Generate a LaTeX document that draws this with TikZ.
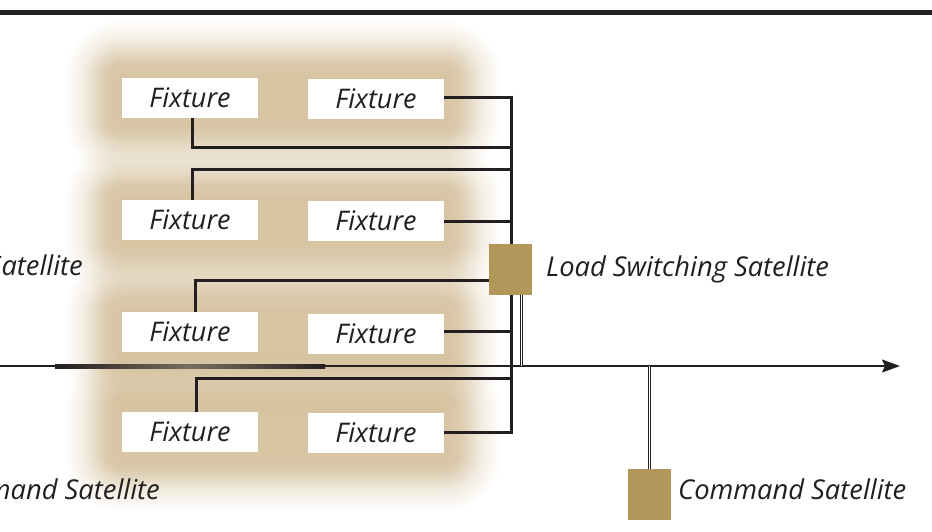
\documentclass[tikz,border=0pt]{standalone}
\usepackage{fontspec}
\newfontfamily\lblfont{Open Sans}
\usetikzlibrary{arrows.meta}
\definecolor{ink}{RGB}{35,31,32}
\definecolor{sat}{RGB}{179,151,90}
\definecolor{glow}{RGB}{190,160,106}
\definecolor{midgrey}{RGB}{118,110,95}
\tikzset{
  fixture/.style={fill=white, minimum width=136pt, minimum height=40pt, inner sep=0pt,
    font=\lblfont\itshape\fontsize{27}{30}\selectfont, text=ink},
  satbox/.style={fill=sat, minimum width=43pt, minimum height=51pt, inner sep=0pt},
  satlabel/.style={font=\lblfont\itshape\fontsize{27.3}{31}\selectfont, text=ink, inner sep=0pt},
  wire/.style={draw=ink, line width=3pt},
  dblwire/.style={draw=ink, line width=1pt, double=white, double distance=1pt},
  glowlayer/.style={fill=glow, opacity=0.03},
}
\begin{document}
\begin{tikzpicture}[x=1pt,y=-1pt]
\useasboundingbox (0,0) rectangle (932,531);
% soft glow behind each row of fixtures
\foreach \yt/\yb in {78/119,200/241,312/354,411/454}{
  \foreach \m in {56.7,52.8,49.3,46.5,43.9,41.3,38.8,37.0,35.4,33.9,32.5,31.1,29.7,28.4,27.1,25.9,24.7,23.5,22.4,21.3,20.1,19.1,18.1,17.1,16.1,15.3,12.9,10.1,7.5,4.5,1.9}{
    \fill[glowlayer, rounded corners=\m pt] (122-\m,\yt-\m) rectangle (444+\m,\yb+\m);
  }
}
% top bar
\fill[ink] (0,9.5) rectangle (932,15);
% fixtures
\node[fixture] (f1) at (190,98) {Fixture\hspace{5pt}};
\node[fixture] (f2) at (376,99) {Fixture\hspace{5pt}};
\node[fixture] (f3) at (190,220) {Fixture\hspace{5pt}};
\node[fixture] (f4) at (376,221) {Fixture\hspace{5pt}};
\node[fixture] (f5) at (190,332) {Fixture\hspace{5pt}};
\node[fixture] (f6) at (376,334) {Fixture\hspace{5pt}};
\node[fixture] (f7) at (190,432) {Fixture\hspace{5pt}};
\node[fixture] (f8) at (376,433) {Fixture\hspace{5pt}};
% satellites
\node[satbox] (ls) at (510.5,269.5) {};
\node[satbox] (cs) at (649.5,494.5) {};
\coordinate (bt) at (511,95.5);
\coordinate (bb) at (511,434);
\coordinate (lsj) at (521,366);
\coordinate (csj) at (649.5,366);
\coordinate (ms) at (0,366);
\coordinate (me) at (900,366);
% labels
\node[satlabel, anchor=base west] (lst) at (546,276) {Load Switching Satellite};
\node[satlabel, anchor=base west] (cst) at (678,499.5) {Command Satellite};
\node[satlabel, anchor=base east] (lcut) at (83,275) {Satellite};
\node[satlabel, anchor=base east] (ccut) at (160,499.5) {mand Satellite};
% bus and connectors
\draw[wire] (bt) -- (ls.north -| bt);
\draw[wire] (ls.south -| bb) -- (bb);
\draw[wire] (f2.east |- 0,97) -- (511,97);
\draw[wire] (f1.south -| 192,0) -- (192,147.5) -- (511,147.5);
\draw[wire] (511,169) -- (192,169) -- (f3.north -| 192,0);
\draw[wire] (f4.east |- 0,221.5) -- (511,221.5);
\draw[wire] (ls.west |- 0,280) -- (195,280) -- (f5.north -| 195,0);
\draw[wire] (f6.east |- 0,331) -- (511,331);
\draw[wire] (511,378) -- (196,378) -- (f7.north -| 196,0);
\draw[wire] (f8.east |- 0,432.5) -- (511,432.5);
% main line
\draw[ink, line width=1.8pt, -{Stealth[length=18pt,width=13pt,inset=3pt]}] (ms) -- (me);
\shade[left color=ink, right color=ink, middle color=midgrey] (55,364) rectangle (325,368);
% double links
\draw[dblwire] (ls.south -| lsj) -- (lsj);
\draw[dblwire] (csj) -- (cs.north);
\end{tikzpicture}
\end{document}
